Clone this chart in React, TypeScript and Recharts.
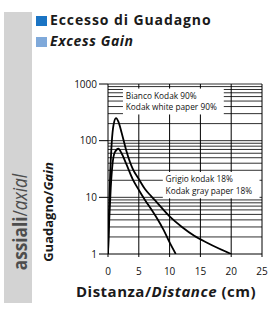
import React from "react";
import {
  LineChart,
  Line,
  XAxis,
  YAxis,
  ReferenceLine,
  ReferenceArea,
} from "recharts";

// Kodak white paper 90%
const distWhite = [0, 0.15, 0.35, 0.6, 0.9, 1.3, 1.7, 2.2, 3, 4, 5, 6, 7, 8, 10, 12, 14, 16, 18, 20];
const gainWhite = [1, 5, 25, 90, 190, 250, 215, 140, 65, 32, 21, 14, 10.5, 8, 4.6, 3, 2.1, 1.6, 1.25, 1];

// Kodak gray paper 18%
const distGray = [0, 0.2, 0.45, 0.75, 1.1, 1.7, 2.2, 3, 4, 5, 6, 7, 8, 9, 10, 11];
const gainGray = [1, 4, 15, 40, 62, 72, 60, 38, 21, 13.5, 9, 6.2, 4.2, 2.7, 1.6, 1];

const xTicks = [0, 5, 10, 15, 20, 25];
const yTicks = [1, 10, 100, 1000];
const xGrid = [5, 10, 15, 20, 25];
const yGrid = [
  2, 3, 4, 5, 6, 7, 8, 9, 10,
  20, 30, 40, 50, 60, 70, 80, 90, 100,
  200, 300, 400, 500, 600, 700, 800, 900, 1000,
];

const X_MIN = 0;
const X_MAX = 25;
const Y_MIN = 1;
const Y_MAX = 1000;

type Box = { x1: number; x2: number; y1: number; y2: number; lines: string[] };
const boxes: Box[] = [
  { x1: 2.43, x2: 18.8, y1: 290, y2: 830, lines: ["Bianco Kodak 90%", "Kodak white paper 90%"] },
  { x1: 8.9, x2: 24.6, y1: 9.6, y2: 28, lines: ["Grigio kodak 18%", "Kodak gray paper 18%"] },
];

const whiteData = distWhite.map((x, i) => ({ x, y: gainWhite[i] }));
const grayData = distGray.map((x, i) => ({ x, y: gainGray[i] }));

// split an interval [a,b] by removing the given [lo,hi] holes
function splitInterval(a: number, b: number, holes: [number, number][]) {
  const sorted = holes.slice().sort((p, q) => p[0] - q[0]);
  const out: [number, number][] = [];
  let cur = a;
  for (const [lo, hi] of sorted) {
    if (hi <= cur || lo >= b) continue;
    if (lo > cur) out.push([cur, lo]);
    cur = Math.max(cur, hi);
  }
  if (cur < b) out.push([cur, b]);
  return out;
}

const hSegments = yGrid.flatMap((v) => {
  const holes = boxes
    .filter((bx) => v >= bx.y1 && v <= bx.y2)
    .map((bx) => [bx.x1, bx.x2] as [number, number]);
  return splitInterval(X_MIN, X_MAX, holes).map(([a, b]) => ({ key: `h${v}-${a}`, seg: [{ x: a, y: v }, { x: b, y: v }] }));
});
const vSegments = xGrid.flatMap((v) => {
  const holes = boxes
    .filter((bx) => v >= bx.x1 && v <= bx.x2)
    .map((bx) => [bx.y1, bx.y2] as [number, number]);
  return splitInterval(Y_MIN, Y_MAX, holes).map(([a, b]) => ({ key: `v${v}-${a}`, seg: [{ x: v, y: a }, { x: v, y: b }] }));
});

const FONT = "'Open Sans', sans-serif";

function boxLabel(lines: string[]) {
  return (props: any) => {
    const vb = props.viewBox || {};
    const x = vb.x + 2.8;
    const y = vb.y;
    return (
      <g>
        {lines.map((t, i) => (
          <text
            key={i}
            x={x}
            y={y + 10.2 + i * 11.5}
            fontSize={8.3}
            fontFamily={FONT}
            fill="#111"
          >
            {t}
          </text>
        ))}
      </g>
    );
  };
}

export default function App() {
  return (
    <div
      style={{
        position: "fixed",
        left: 0,
        top: 0,
        width: 269,
        height: 309,
        background: "#fff",
        overflow: "hidden",
        fontFamily: FONT,
      }}
    >
      {/* left grey band */}
      <div
        style={{
          position: "absolute",
          left: 4,
          top: 12,
          width: 28,
          height: 291,
          background: "#d3d3d3",
        }}
      />
      <div style={{ position: "absolute", left: 20, top: 222, width: 0, height: 0 }}>
        <div
          style={{
            position: "absolute",
            left: 0,
            top: 0,
            transform: "translate(-50%, -50%) rotate(-90deg) scaleX(0.86)",
            whiteSpace: "nowrap",
            fontSize: 20,
            lineHeight: "20px",
            color: "#4d4d4d",
          }}
        >
          <span style={{ fontWeight: 700 }}>assiali</span>
          <span style={{ fontWeight: 400 }}>/</span>
          <span style={{ fontStyle: "italic", fontWeight: 400 }}>axial</span>
        </div>
      </div>

      {/* title */}
      <div style={{ position: "absolute", left: 36, top: 16, width: 11, height: 10, background: "#1a74c4" }} />
      <div style={{ position: "absolute", left: 36, top: 37, width: 11, height: 10, background: "#7fa9da" }} />
      <div
        style={{
          position: "absolute",
          left: 50,
          top: 10,
          fontSize: 14,
          fontWeight: 700,
          letterSpacing: 0.9,
          color: "#1a1a1a",
          whiteSpace: "nowrap",
          lineHeight: "20px",
        }}
      >
        Eccesso di Guadagno
      </div>
      <div
        style={{
          position: "absolute",
          left: 50,
          top: 31,
          fontSize: 14,
          fontWeight: 700,
          letterSpacing: 0.6,
          fontStyle: "italic",
          color: "#1a1a1a",
          whiteSpace: "nowrap",
          lineHeight: "20px",
        }}
      >
        Excess Gain
      </div>

      {/* y axis title */}
      <div style={{ position: "absolute", left: 48, top: 212, width: 0, height: 0 }}>
        <div
          style={{
            position: "absolute",
            left: 0,
            top: 0,
            transform: "translate(-50%, -50%) rotate(-90deg)",
            whiteSpace: "nowrap",
            fontSize: 13,
            lineHeight: "14px",
            fontWeight: 700,
            color: "#1a1a1a",
          }}
        >
          Guadagno/<span style={{ fontStyle: "italic" }}>Gain</span>
        </div>
      </div>

      {/* x axis title */}
      <div
        style={{
          position: "absolute",
          left: 166,
          top: 281,
          transform: "translateX(-50%)",
          whiteSpace: "nowrap",
          fontSize: 15,
          letterSpacing: 0.5,
          lineHeight: "20px",
          fontWeight: 700,
          color: "#1a1a1a",
        }}
      >
        Distanza/<span style={{ fontStyle: "italic" }}>Distance</span> (cm)
      </div>

      <div style={{ position: "absolute", left: 0, top: 0 }}>
        <LineChart
          width={269}
          height={309}
          margin={{ top: 84, right: 7, bottom: 25, left: 0 }}
        >
          <XAxis
            type="number"
            dataKey="x"
            domain={[X_MIN, X_MAX]}
            ticks={xTicks}
            allowDataOverflow
            height={30}
            tickSize={3}
            tickMargin={11}
            stroke="#000"
            tick={{ fill: "#111", fontSize: 10, fontFamily: FONT }}
          />
          <YAxis
            type="number"
            dataKey="y"
            scale="log"
            domain={[Y_MIN, Y_MAX]}
            ticks={yTicks}
            allowDataOverflow
            width={108}
            tickSize={9}
            tickMargin={2}
            stroke="#000"
            tick={{ fill: "#111", fontSize: 10, fontFamily: FONT }}
          />
          {hSegments.map((s) => (
            <ReferenceLine key={s.key} segment={s.seg} stroke="#1a1a1a" strokeWidth={0.9} />
          ))}
          {vSegments.map((s) => (
            <ReferenceLine key={s.key} segment={s.seg} stroke="#000" strokeWidth={1} />
          ))}
          {boxes.map((bx, i) => (
            <ReferenceArea
              key={"box" + i}
              x1={bx.x1}
              x2={bx.x2}
              y1={bx.y1}
              y2={bx.y2}
              fill="#fff"
              fillOpacity={0}
              stroke="none"
              label={boxLabel(bx.lines)}
            />
          ))}
          <Line
            data={whiteData}
            dataKey="y"
            type="monotone"
            stroke="#000"
            strokeWidth={1.8}
            dot={false}
            isAnimationActive={false}
          />
          <Line
            data={grayData}
            dataKey="y"
            type="monotone"
            stroke="#000"
            strokeWidth={1.8}
            dot={false}
            isAnimationActive={false}
          />
        </LineChart>
      </div>
    </div>
  );
}
